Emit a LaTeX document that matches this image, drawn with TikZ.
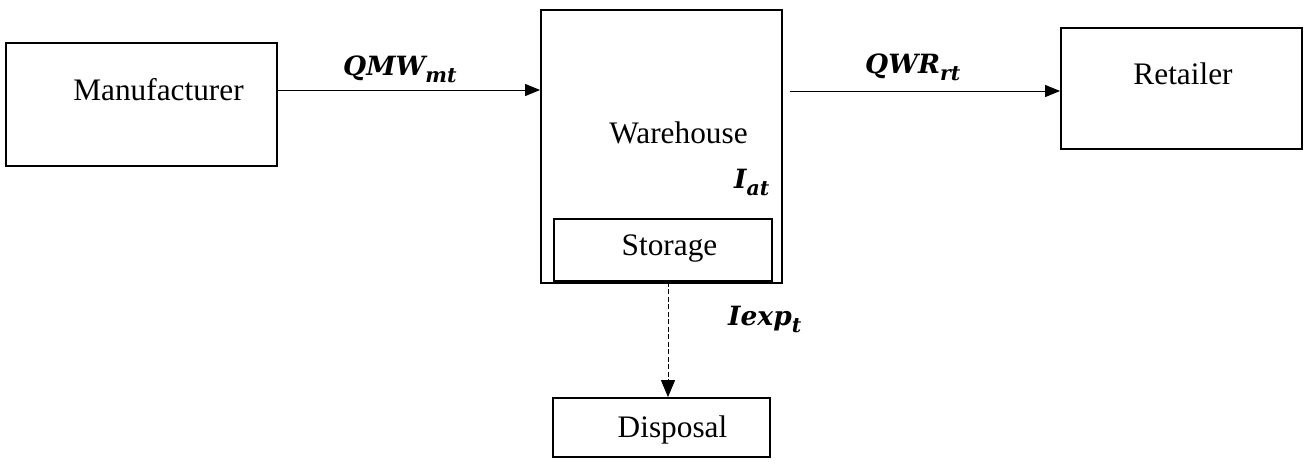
\documentclass[tikz,border=0pt]{standalone}
\usepackage{fontspec}
\setmainfont{Liberation Serif}
\newfontfamily\varfont{DejaVu Serif}
\usetikzlibrary{arrows.meta}
\tikzset{
  box/.style={draw, line width=1.8pt, inner sep=0pt},
  lbl/.style={anchor=base, inner sep=0pt, font=\fontsize{31.3}{36}\selectfont},
  var/.style={anchor=base west, inner sep=0pt, font=\varfont\fontsize{26.5}{30}\selectfont\bfseries\itshape},
  arr/.style={line width=1pt, -{Triangle[length=15pt,width=12pt]}},
  dasharr/.style={line width=1pt, dash pattern=on 5pt off 2.5pt, -{Triangle[length=17pt,width=14pt]}}
}
\newcommand{\mysub}[1]{\raisebox{-0.28em}{\fontsize{20.5}{24}\selectfont\bfseries\itshape #1}}
\begin{document}
\begin{tikzpicture}[x=1pt,y=-1pt]
\useasboundingbox (0,0) rectangle (1305,464);
% boxes
\node[box, minimum width=271pt, minimum height=123pt] (man) at (141.5,104.5) {};
\node[box, minimum width=241pt, minimum height=273pt] (wh) at (661.5,146.5) {};
\node[box, minimum width=218pt, minimum height=62pt] (stor) at (663,250) {};
\node[box, minimum width=241pt, minimum height=121pt] (ret) at (1181.5,88.5) {};
\node[box, minimum width=217pt, minimum height=59pt] (dis) at (661.5,427.5) {};
% texts
\node[lbl] (tman) at (158.5,100) {Manufacturer};
\node[lbl] (twh) at (678.5,143) {Warehouse};
\node[lbl] (tstor) at (669.5,255) {Storage};
\node[lbl] (tret) at (1183,84) {Retailer};
\node[lbl] (tdis) at (672.5,437) {Disposal};
% variable labels
\node[var] (qmw) at (343,75) {QMW\mysub{mt}};
\node[var] (qwr) at (865,73) {QWR\mysub{rt}};
\node[var] (iat) at (734,188) {I\mysub{at}};
\node[var] (iexp) at (728,325) {Iexp\mysub{t}};
% connectors
\draw[arr] (man.east |- 0,90) -- (wh.west |- 0,90);
\draw[arr, shorten <=7pt] (wh.east |- 0,91) -- (ret.west |- 0,91);
\draw[dasharr] ([xshift=5pt]stor.south) -- ([xshift=5pt]stor.south |- dis.north);
\end{tikzpicture}
\end{document}
